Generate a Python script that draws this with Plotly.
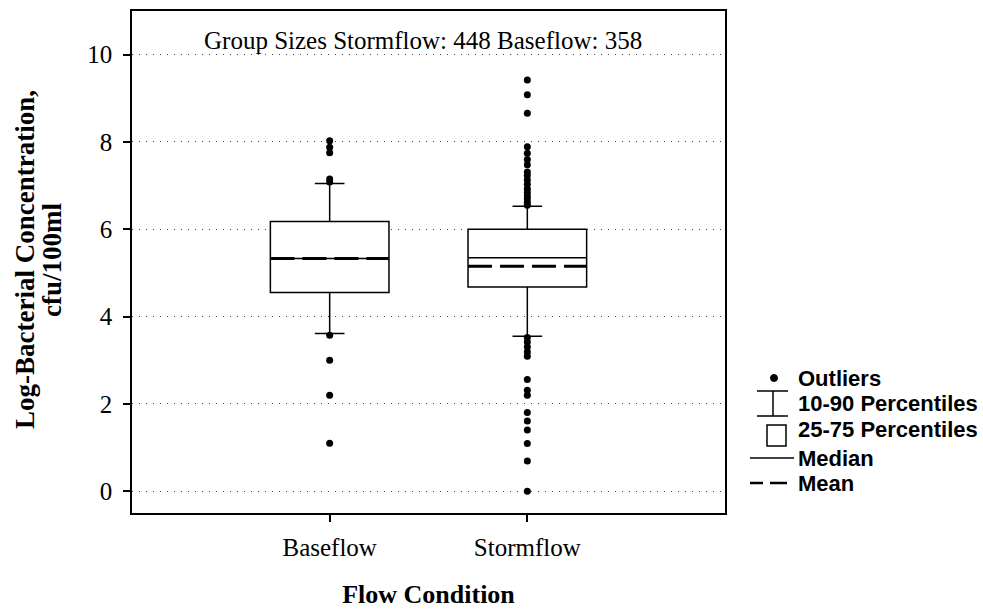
import plotly.graph_objects as go

# Flow conditions and their box statistics (log cfu/100ml)
categories = ["Baseflow", "Stormflow"]
positions = [0, 1]
p10 = [3.61, 3.55]
q1 = [4.55, 4.68]
median = [5.33, 5.35]
q3 = [6.18, 6.00]
p90 = [7.05, 6.53]
mean = [5.33, 5.15]

baseflow_outliers = [8.03, 7.88, 7.75, 7.15, 7.08, 3.57, 3.00, 2.20, 1.10]
stormflow_outliers = [9.42, 9.08, 8.66, 7.89, 7.74, 7.60, 7.48, 7.31, 7.23, 7.13,
                      7.03, 6.93, 6.85, 6.77, 6.70, 6.62, 6.55,
                      3.52, 3.42, 3.30, 3.19, 3.09, 2.56, 2.31, 2.20,
                      1.80, 1.61, 1.40, 1.09, 0.69, 0.00]
outliers = [baseflow_outliers, stormflow_outliers]

group_sizes = {"Stormflow": 448, "Baseflow": 358}

y_ticks = [0, 2, 4, 6, 8, 10]
y_title_lines = ["Log-Bacterial Concentration,", "cfu/100ml"]
box_width = 0.6

SERIF = "Liberation Serif, Times New Roman, serif"
SANS = "Liberation Sans, Arial, sans-serif"

fig = go.Figure()

for i, pos in enumerate(positions):
    fig.add_trace(go.Box(
        x=[pos], q1=[q1[i]], median=[median[i]], q3=[q3[i]],
        lowerfence=[p10[i]], upperfence=[p90[i]],
        orientation="v", width=box_width, whiskerwidth=0.25,
        fillcolor="white", line=dict(color="black", width=1.5),
        boxpoints=False, showlegend=False, hoverinfo="skip",
    ))
    # mean as a long-dash line across the box
    fig.add_trace(go.Scatter(
        x=[pos - box_width / 2, pos + box_width / 2], y=[mean[i], mean[i]],
        mode="lines", line=dict(color="black", width=3, dash="24px,8px"),
        showlegend=False, hoverinfo="skip",
    ))
    fig.add_trace(go.Scatter(
        x=[pos] * len(outliers[i]), y=outliers[i], mode="markers",
        marker=dict(color="black", size=7), showlegend=False, hoverinfo="skip",
    ))

# plot-area geometry in pixels (for the hand-drawn key and titles)
L, R, T, B = 132, 725, 11, 513
W, H = 983, 609


def px(x):
    return (x - L) / (R - L)


def py(y):
    return (B - y) / (B - T)


shapes = []
key = dict(xref="paper", yref="paper", line=dict(color="black", width=1.5))
shapes.append(dict(type="circle", x0=px(770.5), x1=px(777.5), y0=py(374.5), y1=py(381.5),
                   xref="paper", yref="paper", fillcolor="black", line=dict(color="black", width=1)))
shapes.append(dict(type="line", x0=px(773), x1=px(773), y0=py(391), y1=py(416), **key))
shapes.append(dict(type="line", x0=px(757), x1=px(788), y0=py(391), y1=py(391), **key))
shapes.append(dict(type="line", x0=px(757), x1=px(788), y0=py(416), y1=py(416), **key))
shapes.append(dict(type="rect", x0=px(767), x1=px(786), y0=py(425), y1=py(446), **key))
shapes.append(dict(type="line", x0=px(750), x1=px(794), y0=py(458), y1=py(458), **key))
shapes.append(dict(type="line", x0=px(750), x1=px(763), y0=py(483), y1=py(483),
                   xref="paper", yref="paper", line=dict(color="black", width=2.5)))
shapes.append(dict(type="line", x0=px(770), x1=px(787), y0=py(483), y1=py(483),
                   xref="paper", yref="paper", line=dict(color="black", width=2.5)))

annotations = []
for text, yc in [("Outliers", 378), ("10-90 Percentiles", 403), ("25-75 Percentiles", 429),
                 ("Median", 458), ("Mean", 483)]:
    annotations.append(dict(text=f"<b>{text}</b>", x=px(796), y=py(yc), xref="paper", yref="paper",
                            xanchor="left", yanchor="middle", showarrow=False,
                            font=dict(family=SANS, size=22, color="black")))

annotations.append(dict(
    text=f"Group Sizes Stormflow: {group_sizes['Stormflow']} Baseflow: {group_sizes['Baseflow']}",
    x=px(202), y=py(41), xref="paper", yref="paper", xanchor="left", yanchor="middle",
    showarrow=False, font=dict(family=SERIF, size=25, color="black")))

# two-line rotated y-axis title, set tighter than the default line spacing
for text, xc in zip(y_title_lines, [25, 52]):
    annotations.append(dict(
        text=f"<b>{text}</b>", x=px(xc), y=py(260), xref="paper", yref="paper",
        xanchor="center", yanchor="middle", textangle=-90, showarrow=False,
        font=dict(family=SERIF, size=27, color="black")))

fig.update_layout(
    width=W, height=H,
    margin=dict(l=L, r=W - R, t=T, b=H - B),
    paper_bgcolor="white", plot_bgcolor="white",
    font=dict(family=SERIF, color="black"),
    shapes=shapes, annotations=annotations,
    showlegend=False,
)

fig.update_xaxes(
    range=[-1, 2], tickvals=positions, ticktext=categories,
    ticks="outside", ticklen=7, tickwidth=1.5, tickcolor="black",
    tickfont=dict(family=SERIF, size=25), ticklabelstandoff=4,
    showgrid=False, zeroline=False, automargin=False,
    showline=True, linecolor="black", linewidth=1.5, mirror=True,
    title=dict(text="<b>Flow Condition</b>", font=dict(family=SERIF, size=26), standoff=33),
)
fig.update_yaxes(
    range=[-0.5, 11], tickvals=y_ticks,
    ticks="outside", ticklen=7, tickwidth=1.5, tickcolor="black",
    tickfont=dict(family=SERIF, size=25), ticklabelstandoff=6,
    showgrid=True, gridcolor="#444", gridwidth=1, griddash="1px,6px",
    zeroline=False, automargin=False,
    showline=True, linecolor="black", linewidth=1.5, mirror=True,
)

fig.write_html("out.html")
